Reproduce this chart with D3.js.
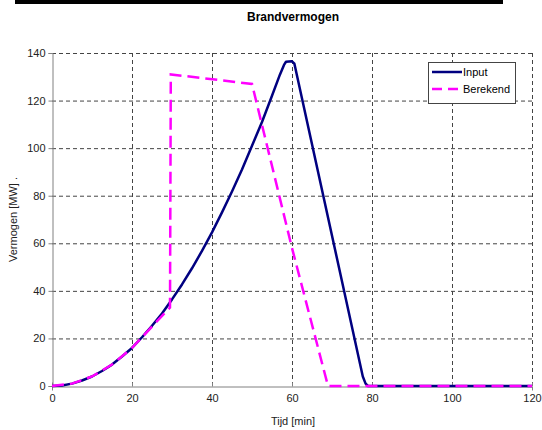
<!DOCTYPE html>
<html>
<head>
<meta charset="utf-8">
<script src="https://cdn.jsdelivr.net/npm/d3@7"></script>
<style>
  body { margin: 0; background: #fff; }
  text { font-family: "Liberation Sans", Arial, sans-serif; }
</style>
</head>
<body>
<div id="chart"></div>
<script>
// data
const inputT = [0, 2.5, 5, 7.5, 10, 12.5, 15, 17.5, 20, 22.5, 25, 27.5, 30, 32.5, 35, 37.5, 40, 42.5, 45, 47.5, 50, 52.5, 55, 57, 58, 58.5, 60, 60.6, 77.7, 78.4, 79, 120];
const inputQ = [0, 0.25, 1, 2.3, 4, 6.3, 9, 12.4, 16, 20.5, 25.3, 30.5, 36.4, 42.7, 49.5, 56.8, 64.6, 73, 81.8, 91, 101, 111, 122, 131, 135, 136.3, 136.5, 135.5, 4, 1, 0, 0];
const berekendT = [0, 5, 10, 15, 20, 25, 29.5, 29.7, 50, 60, 69, 120];
const berekendQ = [0, 1, 4, 9, 16, 25, 33, 131, 127, 58, 0, 0];
const xTicks = [0, 20, 40, 60, 80, 100, 120];
const yTicks = [0, 20, 40, 60, 80, 100, 120, 140];

const W = 542, H = 430;
const margin = { top: 53, right: 10, bottom: 44, left: 52 };

const svg = d3.select("#chart").append("svg")
    .attr("width", W)
    .attr("height", H);

const x = d3.scaleLinear().domain([0, 120]).range([margin.left, W - margin.right]);
const y = d3.scaleLinear().domain([0, 140]).range([H - margin.bottom, margin.top]);

// top black bar
svg.append("rect").attr("x", 15).attr("y", 0).attr("width", 488).attr("height", 4).attr("fill", "#000");

svg.append("text")
    .attr("x", 293).attr("y", 21)
    .attr("text-anchor", "middle")
    .style("font-size", "12px").style("font-weight", "bold")
    .text("Brandvermogen");

// grid
const grid = svg.append("g").attr("stroke", "#444").attr("stroke-dasharray", "4,3").attr("stroke-width", 1);
xTicks.filter(d => d > 0).forEach(d => {
    grid.append("line").attr("x1", x(d) + 0.5).attr("x2", x(d) + 0.5).attr("y1", y(140)).attr("y2", y(0));
});
yTicks.filter(d => d > 0).forEach(d => {
    grid.append("line").attr("x1", x(0)).attr("x2", x(120)).attr("y1", y(d) + 0.5).attr("y2", y(d) + 0.5);
});

// axes
const xAxis = svg.append("g")
    .attr("transform", `translate(0,${y(0) + 0.5})`)
    .call(d3.axisBottom(x).tickValues(xTicks).tickSize(4).tickPadding(4));
const yAxis = svg.append("g")
    .attr("transform", `translate(${x(0) + 0.5},0)`)
    .call(d3.axisLeft(y).tickValues(yTicks).tickSize(4).tickPadding(3));
[xAxis, yAxis].forEach(a => {
    a.select(".domain").attr("stroke", "#808080");
    a.selectAll(".tick line").attr("stroke", "#808080");
    a.selectAll(".tick text").style("font-size", "11px").attr("fill", "#222")
        .style("font-family", "'Liberation Sans', Arial, sans-serif");
});
xAxis.selectAll(".tick line").attr("y1", -4).attr("y2", 0);

svg.append("text")
    .attr("x", 293).attr("y", 425)
    .attr("text-anchor", "middle")
    .style("font-size", "11px").attr("fill", "#222")
    .text("Tijd [min]");
svg.append("text")
    .attr("transform", `translate(17,${(y(0) + y(140)) / 2}) rotate(-90)`)
    .attr("text-anchor", "middle")
    .style("font-size", "11px").attr("fill", "#222")
    .text("Vermogen [MW] .");

const line = d3.line().x(d => x(d[0])).y(d => y(d[1]));

svg.append("path")
    .datum(d3.zip(inputT, inputQ))
    .attr("d", line)
    .attr("fill", "none").attr("stroke", "#000080").attr("stroke-width", 2.5)
    .attr("stroke-linejoin", "round");

svg.append("path")
    .datum(d3.zip(berekendT, berekendQ))
    .attr("d", line)
    .attr("fill", "none").attr("stroke", "#ff00ff").attr("stroke-width", 2.5)
    .attr("stroke-dasharray", "12,6");

// legend
const lg = svg.append("g");
lg.append("rect").attr("x", 428.5).attr("y", 62.5).attr("width", 87).attr("height", 41)
    .attr("fill", "#fff").attr("stroke", "#444");
lg.append("line").attr("x1", 432).attr("x2", 462).attr("y1", 72).attr("y2", 72)
    .attr("stroke", "#000080").attr("stroke-width", 2.5);
lg.append("line").attr("x1", 432).attr("x2", 462).attr("y1", 89).attr("y2", 89)
    .attr("stroke", "#ff00ff").attr("stroke-width", 2.5).attr("stroke-dasharray", "10,6");
lg.append("text").attr("x", 463).attr("y", 76).style("font-size", "11px").text("Input");
lg.append("text").attr("x", 463).attr("y", 93).style("font-size", "11px").text("Berekend");
</script>
</body>
</html>
